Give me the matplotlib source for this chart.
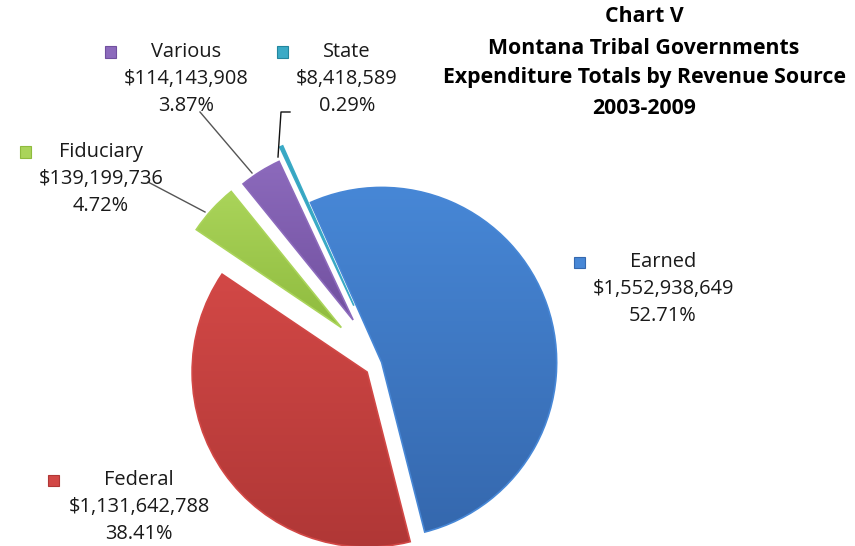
import matplotlib
matplotlib.use("Agg")
import matplotlib.pyplot as plt
import numpy as np
from matplotlib.patches import Rectangle
from matplotlib.lines import Line2D
from matplotlib.colors import LinearSegmentedColormap

# ---- data ----
categories = ["Earned", "Federal", "Fiduciary", "Various", "State"]
amounts = [1552938649, 1131642788, 139199736, 114143908, 8418589]
percent_labels = ["52.71%", "38.41%", "4.72%", "3.87%", "0.29%"]
amount_labels = ["$1,552,938,649", "$1,131,642,788", "$139,199,736", "$114,143,908", "$8,418,589"]
title_lines = ["Chart V", "Montana Tribal Governments",
               "Expenditure Totals by Revenue Source", "2003-2009"]

# ---- style ----
light = ["#4787d6", "#d24846", "#aad45a", "#8c6abc", "#3aaac6"]
dark = ["#3568ae", "#b03736", "#8fbb3e", "#71509f", "#23869e"]
explode = [0.01, 0.09, 0.30, 0.29, 0.36]

W, H = 855, 546
fig = plt.figure(figsize=(W / 100, H / 100), dpi=100)
ax = fig.add_axes([0, 0, 1, 1])
ax.set_axis_off()

S = 175.0          # pixels per unit radius
cx, cy = 380, 363  # pie centre in pixels (from top)
xlim = (-cx / S, (W - cx) / S)
ylim = (-(H - cy) / S, cy / S)

wedges, _ = ax.pie(amounts, explode=explode, startangle=114, counterclock=False,
                   colors=light, radius=1.0, center=(0, 0), frame=True,
                   wedgeprops=dict(linewidth=0))
ax.set_xlim(*xlim)
ax.set_ylim(*ylim)
ax.set_aspect("auto")

# vertical gradient inside each wedge
grad = np.linspace(0, 1, 256).reshape(-1, 1)
inv = ax.transData.inverted()
for w, lc, dc in zip(wedges, light, dark):
    cmap = LinearSegmentedColormap.from_list("g", [lc, dc])
    dv = inv.transform(w.get_verts())
    x0, x1 = dv[:, 0].min(), dv[:, 0].max()
    y0, y1 = dv[:, 1].min(), dv[:, 1].max()
    im = ax.imshow(grad, extent=(x0, x1, y0, y1), origin="upper", cmap=cmap,
                   aspect="auto", interpolation="bilinear", zorder=w.get_zorder())
    im.set_clip_path(w)
    w.set_facecolor("none")
    w.set_edgecolor(lc)
    w.set_linewidth(1.2)
    w.set_zorder(im.get_zorder() + 0.1)

ax.set_xlim(*xlim)
ax.set_ylim(*ylim)
ax.set_aspect("auto")


def fx(px):
    return px / W


def fy(py):
    return 1 - py / H


# ---- title ----
title_y = [17, 48, 78, 108]
for t, yy in zip(title_lines, title_y):
    fig.text(fx(644), fy(yy), t, ha="center", va="center", fontsize=15.3,
             fontweight="bold", family="Open Sans", color="#000000")

# ---- labels ----
font = dict(family="Open Sans", fontsize=14.4, color="#1a1a1a", ha="center", va="center")
label_pos = {  # centre x, first line y, marker x
    "Earned": (663, 262, 579),
    "Federal": (139, 480, 53),
    "Fiduciary": (101, 152, 25),
    "Various": (186, 52, 110),
    "State": (347, 52, 282),
}
for i, name in enumerate(categories):
    xc, y1, mx = label_pos[name]
    fig.text(fx(xc), fy(y1), name, **font)
    fig.text(fx(xc), fy(y1 + 27), amount_labels[i], **font)
    fig.text(fx(xc), fy(y1 + 54), percent_labels[i], **font)
    sz = 11
    fig.add_artist(Rectangle((fx(mx - sz / 2), fy(y1 + sz / 2)), sz / W, sz / H,
                             transform=fig.transFigure, facecolor=light[i],
                             edgecolor=dark[i], linewidth=0.8))

# ---- leader lines ----
leaders = [
    ([200, 252], [112, 173], "#555555"),            # Various
    ([290, 281, 278], [112, 112, 157], "#111111"),  # State
    ([148, 205], [182, 212], "#555555"),            # Fiduciary
]
for xs, ys, c in leaders:
    fig.add_artist(Line2D([fx(v) for v in xs], [fy(v) for v in ys],
                          transform=fig.transFigure, color=c, linewidth=1.0))

fig.savefig("out.png", dpi=100)
